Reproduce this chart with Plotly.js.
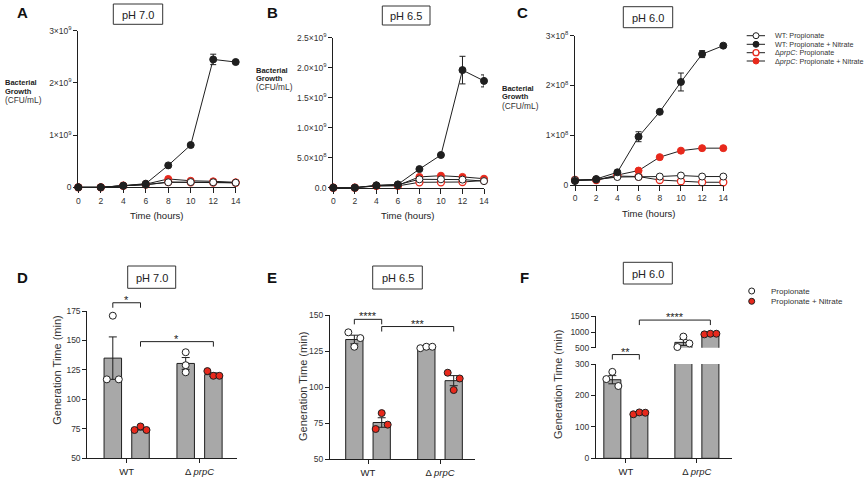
<!DOCTYPE html>
<html><head><meta charset="utf-8">
<script src="https://cdn.plot.ly/plotly-3.0.1.min.js"></script>
<style>html,body{margin:0;padding:0;background:#fff}#chart{width:866px;height:480px}</style>
</head><body><div id="chart"></div>
<script>
// ---------------- DATA ----------------
const hours = [0, 2, 4, 6, 8, 10, 12, 14];
const hourTicks = [0, 2, 4, 6, 8, 10, 12, 14];
const seriesLabels = ['WT: Propionate', 'WT: Propionate + Nitrate', 'Δ<i>prpC</i>: Propionate', 'Δ<i>prpC</i>: Propionate + Nitrate'];

// Panel A  pH 7.0 (CFU/mL)
const a_wtProp = [0, 0, 0.03e9, 0.05e9, 0.096e9, 0.1e9, 0.096e9, 0.088e9];
const a_wtNit = [0, 0, 0.03e9, 0.07e9, 0.42e9, 0.81e9, 2.45e9, 2.40e9];
const a_wtNitErr = [0, 0, 0, 0, 0.02e9, 0.02e9, 0.1e9, 0.03e9];
const a_dProp = [0, 0, 0.03e9, 0.05e9, 0.1e9, 0.095e9, 0.09e9, 0.085e9];
const a_dNit = [0, 0, 0.03e9, 0.06e9, 0.16e9, 0.125e9, 0.115e9, 0.096e9];
const a_tickVals = [0, 1e9, 2e9, 3e9];
const a_tickText = ['0', '1×10<sup>9</sup>', '2×10<sup>9</sup>', '3×10<sup>9</sup>'];

// Panel B  pH 6.5
const b_wtProp = [0, 0, 0.035e9, 0.05e9, 0.14e9, 0.14e9, 0.135e9, 0.11e9];
const b_wtNit = [0, 0, 0.04e9, 0.055e9, 0.31e9, 0.545e9, 1.96e9, 1.78e9];
const b_wtNitErr = [0, 0, 0, 0, 0.01e9, 0.02e9, 0.23e9, 0.1e9];
const b_dProp = [0, 0, 0.03e9, 0.03e9, 0.09e9, 0.09e9, 0.095e9, 0.12e9];
const b_dNit = [0, 0, 0.03e9, 0.04e9, 0.18e9, 0.2e9, 0.18e9, 0.15e9];
const b_tickVals = [0, 5e8, 1e9, 1.5e9, 2e9, 2.5e9];
const b_tickText = ['0.0', '5.0×10<sup>8</sup>', '1.0×10<sup>9</sup>', '1.5×10<sup>9</sup>', '2.0×10<sup>9</sup>', '2.5×10<sup>9</sup>'];

// Panel C  pH 6.0
const c_wtProp = [0.1e8, 0.11e8, 0.16e8, 0.16e8, 0.17e8, 0.19e8, 0.17e8, 0.17e8];
const c_wtNit = [0.08e8, 0.12e8, 0.255e8, 0.97e8, 1.47e8, 2.07e8, 2.63e8, 2.8e8];
const c_wtNitErr = [0, 0, 0, 0.1e8, 0.02e8, 0.18e8, 0.07e8, 0.02e8];
const c_dProp = [0.1e8, 0.1e8, 0.18e8, 0.17e8, 0.1e8, 0.075e8, 0.055e8, 0.055e8];
const c_dNit = [0.1e8, 0.1e8, 0.2e8, 0.29e8, 0.56e8, 0.69e8, 0.74e8, 0.74e8];
const c_tickVals = [0, 1e8, 2e8, 3e8];
const c_tickText = ['0', '1×10<sup>8</sup>', '2×10<sup>8</sup>', '3×10<sup>8</sup>'];

// Generation time panels (min)
const strains = ['WT', 'Δ <i>prpC</i>'];
const barLabels = ['Propionate', 'Propionate + Nitrate'];

// D  pH 7.0
const d_propPts = [[117, 171, 117], [140, 129, 123]];
const d_propMean = [135, 130.5];
const d_propSem = [18, 5];
const d_nitPts = [[74, 77, 74], [124, 120, 120]];
const d_nitMean = [75, 121];
const d_nitSem = [1, 1.5];
const d_ticks = [50, 75, 100, 125, 150, 175];
const d_sig = [{from: [0, 0], to: [0, 1], at: 182, label: '*'}, {from: [0, 1], to: [1, 1], at: 149, label: '*'}];

// E  pH 6.5
const e_propPts = [[138, 134, 128], [127, 128, 128]];
const e_propMean = [133, 127.5];
const e_propSem = [3, 0.5];
const e_nitPts = [[82, 71, 74], [110, 98, 106]];
const e_nitMean = [75.5, 104.5];
const e_nitSem = [3.3, 3.5];
const e_ticks = [50, 75, 100, 125, 150];
const e_sig = [{from: [0, 0], to: [0, 1], at: 147, label: '****'}, {from: [0, 1], to: [1, 1], at: 142, label: '***'}];

// F  pH 6.0 (broken axis)
const f_propPts = [[275, 252, 230], [521, 854, 635]];
const f_propMean = [250, 670];
const f_propSem = [13, 97];
const f_nitPts = [[140, 146, 145], [925, 945, 945]];
const f_nitMean = [143, 938];
const f_nitSem = [2, 10];
const f_ticksLow = [0, 100, 200, 300];
const f_ticksHigh = [500, 1000, 1500];
const f_sig = [{from: [0, 0], to: [0, 1], at: 330, label: '**'}, {from: [0, 1], to: [1, 1], at: 1380, label: '****'}];

// ---------------- STYLE / GEOMETRY ----------------
const W = 866, H = 480;
const RED = '#e8291c', INK = '#1f1f1f', BARC = '#a8a8a8';
const FONT = 'Arial, "Liberation Sans", Helvetica, sans-serif';
const px2x = p => p / W;
const py2y = p => 1 - p / H;

const layout = {
  width: W, height: H, margin: {l: 0, r: 0, t: 0, b: 0},
  paper_bgcolor: '#fff', plot_bgcolor: 'rgba(0,0,0,0)',
  showlegend: false, hovermode: false,
  font: {family: FONT, color: '#222'},
  shapes: [], annotations: []
};
const data = [];

function axisBase(extra) {
  return Object.assign({
    showline: true, linecolor: INK, linewidth: 1, ticks: 'outside', ticklen: 4, tickwidth: 1,
    tickcolor: INK, showgrid: false, zeroline: false, fixedrange: true,
    tickfont: {size: 8.5, color: '#333', family: FONT}
  }, extra);
}
function axKey(id) { return (id[0] === 'x' ? 'xaxis' : 'yaxis') + id.slice(1); }

function ann(text, x, y, opts) {
  layout.annotations.push(Object.assign({
    text: text, x: px2x(x), y: py2y(y), xref: 'paper', yref: 'paper', showarrow: false,
    xanchor: 'center', yanchor: 'middle', font: {family: FONT, size: 9, color: '#222'}
  }, opts || {}));
}
function titleBox(text, x0, x1, y0, y1) {
  layout.shapes.push({type: 'rect', xref: 'paper', yref: 'paper', x0: px2x(x0), x1: px2x(x1), y0: py2y(y0), y1: py2y(y1), line: {color: '#333', width: 1}, fillcolor: '#fff'});
  ann(text, (x0 + x1) / 2, (y0 + y1) / 2 + 0.5, {font: {family: FONT, size: 11, color: '#222'}});
}

// ---------------- GROWTH CURVES (A-C) ----------------
const growthPanels = [
  {x: 'x', y: 'y', xPx: [78.3, 235.7], yPx: [187.3, 30.7], wtProp: a_wtProp, wtNit: a_wtNit, err: a_wtNitErr, dProp: a_dProp, dNit: a_dNit, tv: a_tickVals, tt: a_tickText},
  {x: 'x2', y: 'y2', xPx: [333.3, 484], yPx: [187.7, 37.7], wtProp: b_wtProp, wtNit: b_wtNit, err: b_wtNitErr, dProp: b_dProp, dNit: b_dNit, tv: b_tickVals, tt: b_tickText},
  {x: 'x3', y: 'y3', xPx: [575, 723.3], yPx: [185, 35.7], wtProp: c_wtProp, wtNit: c_wtNit, err: c_wtNitErr, dProp: c_dProp, dNit: c_dNit, tv: c_tickVals, tt: c_tickText}
];
const lineStyle = {color: INK, width: 1};
const mk = {
  wtProp: {size: 7, color: '#fff', line: {color: INK, width: 1}},
  wtNit: {size: 7, color: INK, line: {color: INK, width: 1}},
  dProp: {size: 7, color: '#fff', line: {color: RED, width: 1.3}},
  dNit: {size: 7, color: RED, line: {color: RED, width: 1}}
};
growthPanels.forEach(p => {
  layout[axKey(p.x)] = axisBase({domain: [px2x(p.xPx[0]), px2x(p.xPx[1])], range: [0, 14], tickvals: hourTicks, ticktext: hourTicks.map(String), anchor: p.y, ticklen: 5});
  layout[axKey(p.y)] = axisBase({domain: [py2y(p.yPx[0]), py2y(p.yPx[1])], range: [0, p.tv[p.tv.length - 1]], tickvals: p.tv, ticktext: p.tt, anchor: p.x});
  const order = [['dNit', p.dNit, seriesLabels[3]], ['dProp', p.dProp, seriesLabels[2]], ['wtProp', p.wtProp, seriesLabels[0]], ['wtNit', p.wtNit, seriesLabels[1]]];
  order.forEach(([k, ys, name]) => {
    const t = {type: 'scatter', mode: 'lines+markers', x: hours, y: ys, name: name, xaxis: p.x, yaxis: p.y, line: lineStyle, marker: mk[k], cliponaxis: false};
    if (k === 'wtNit') t.error_y = {type: 'data', array: p.err, visible: true, color: INK, thickness: 1, width: 3};
    data.push(t);
  });
});

// ---------------- GENERATION TIME (D-F) ----------------
const barPanels = [
  {x: 'x4', xPx: [87.3, 236.7], xRange: [-0.54, 1.51],
   yAxes: [{id: 'y4', px: [458.3, 311], ticks: d_ticks}],
   prop: d_propPts, propMean: d_propMean, propSem: d_propSem, nit: d_nitPts, nitMean: d_nitMean, nitSem: d_nitSem, sig: d_sig},
  {x: 'x5', xPx: [330, 475], xRange: [-0.528, 1.486],
   yAxes: [{id: 'y5', px: [459.3, 315], ticks: e_ticks}],
   prop: e_propPts, propMean: e_propMean, propSem: e_propSem, nit: e_nitPts, nitMean: e_nitMean, nitSem: e_nitSem, sig: e_sig},
  {x: 'x6', xPx: [596, 731.7], xRange: [-0.42, 1.49],
   yAxes: [{id: 'y6', px: [458.3, 364], ticks: f_ticksLow}, {id: 'y7', px: [347.7, 316.3], ticks: f_ticksHigh}],
   prop: f_propPts, propMean: f_propMean, propSem: f_propSem, nit: f_nitPts, nitMean: f_nitMean, nitSem: f_nitSem, sig: f_sig}
];
const BAR_OFF = 0.19, BAR_W = 0.24, JIT = 6, JIT_THR = 7;

function axisFor(p, v) {
  if (p.yAxes.length > 1 && v >= p.yAxes[1].ticks[0]) return p.yAxes[1];
  return p.yAxes[0];
}
function yPx(p, v) {
  const a = axisFor(p, v), r0 = a.ticks[0], r1 = a.ticks[a.ticks.length - 1];
  return a.px[0] + (v - r0) * (a.px[1] - a.px[0]) / (r1 - r0);
}
function xPx(p, xv) { return p.xPx[0] + (xv - p.xRange[0]) * (p.xPx[1] - p.xPx[0]) / (p.xRange[1] - p.xRange[0]); }
function pxPerX(p) { return (p.xPx[1] - p.xPx[0]) / (p.xRange[1] - p.xRange[0]); }

function jitterOffsets(p, pts) {
  const py = pts.map(v => yPx(p, v));
  const idx = pts.map((_, i) => i).sort((a, b) => py[a] - py[b]);
  const groups = [];
  let cur = [idx[0]];
  for (let k = 1; k < idx.length; k++) {
    if (Math.abs(py[idx[k]] - py[cur[cur.length - 1]]) < JIT_THR) cur.push(idx[k]);
    else { groups.push(cur); cur = [idx[k]]; }
  }
  groups.push(cur);
  const off = new Array(pts.length).fill(0);
  groups.forEach(g => {
    g.sort((a, b) => a - b);
    const n = g.length;
    g.forEach((i, j) => { off[i] = (n === 2 ? (j - 0.5) * 2 * JIT : (j - (n - 1) / 2) * JIT) / pxPerX(p); });
  });
  return off;
}

barPanels.forEach(p => {
  layout[axKey(p.x)] = axisBase({domain: [px2x(p.xPx[0]), px2x(p.xPx[1])], range: p.xRange, tickvals: [0, 1], ticktext: strains, anchor: p.yAxes[0].id, tickfont: {size: 9.5, color: '#222', family: FONT}});
  p.yAxes.forEach(a => {
    layout[axKey(a.id)] = axisBase({domain: [py2y(a.px[0]), py2y(a.px[1])], range: [a.ticks[0], a.ticks[a.ticks.length - 1]], tickvals: a.ticks, anchor: p.x});
  });
  const sets = [
    {pts: p.prop, mean: p.propMean, sem: p.propSem, off: -BAR_OFF, mcol: '#fff', name: barLabels[0]},
    {pts: p.nit, mean: p.nitMean, sem: p.nitSem, off: BAR_OFF, mcol: RED, name: barLabels[1]}
  ];
  p.yAxes.forEach(a => {
    const lo = a.ticks[0], hi = a.ticks[a.ticks.length - 1];
    sets.forEach(s => {
      data.push({type: 'bar', x: strains.map((_, i) => i + s.off), y: s.mean, width: BAR_W, name: s.name,
        xaxis: p.x, yaxis: a.id, marker: {color: BARC, line: {color: INK, width: 1}},
        error_y: {type: 'data', array: s.sem, visible: true, color: INK, thickness: 1, width: 4}});
    });
    sets.forEach(s => {
      const xs = [], ys = [];
      s.pts.forEach((grp, gi) => {
        const off = jitterOffsets(p, grp);
        grp.forEach((v, k) => { if (v >= lo && v <= hi) { xs.push(gi + s.off + off[k]); ys.push(v); } });
      });
      data.push({type: 'scatter', mode: 'markers', x: xs, y: ys, name: s.name, xaxis: p.x, yaxis: a.id, cliponaxis: false,
        marker: {size: 7, color: s.mcol, line: {color: INK, width: 1}}});
    });
  });
  // significance brackets
  p.sig.forEach(sg => {
    const x0 = xPx(p, sg.from[0] + (sg.from[1] ? BAR_OFF : -BAR_OFF));
    const x1 = xPx(p, sg.to[0] + (sg.to[1] ? BAR_OFF : -BAR_OFF));
    const y = yPx(p, sg.at);
    layout.shapes.push({type: 'path', xref: 'paper', yref: 'paper',
      path: `M ${px2x(x0)},${py2y(y + 5)} L ${px2x(x0)},${py2y(y)} L ${px2x(x1)},${py2y(y)} L ${px2x(x1)},${py2y(y + 5)}`,
      line: {color: INK, width: 1}});
    ann(sg.label, (x0 + x1) / 2, y - 3, {font: {family: FONT, size: 11, color: '#222'}});
  });
});

// ---------------- TEXT ----------------
const letterFont = {family: FONT, size: 15, color: '#111', weight: 'bold'};
[['A', 22, 12], ['B', 272, 12], ['C', 522, 12], ['D', 22, 277], ['E', 272, 277], ['F', 524, 277]].forEach(([t, x, y]) => ann('<b>' + t + '</b>', x, y, {font: letterFont}));

titleBox('pH 7.0', 113.3, 162.7, 4, 24.3);
titleBox('pH 6.5', 382.3, 430, 6, 25);
titleBox('pH 6.0', 623.3, 672.7, 6.7, 27.7);
titleBox('pH 7.0', 127.7, 175.7, 266, 288.3);
titleBox('pH 6.5', 372.7, 422.3, 266, 289);
titleBox('pH 6.0', 623.3, 672.3, 262.3, 284);

// growth y-titles
[[3, 82.7], [254, 70], [500, 88.3]].forEach(([x, y]) => {
  ann('<b>Bacterial</b>', x, y, {xanchor: 'left', font: {family: FONT, size: 7.5, color: '#222'}});
  ann('<b>Growth</b>', x, y + 8.5, {xanchor: 'left', font: {family: FONT, size: 7.5, color: '#222'}});
  ann('(CFU/mL)', x, y + 17.5, {xanchor: 'left', font: {family: FONT, size: 8.3, color: '#333'}});
});
// x titles
[[157, 215], [408, 215], [649, 213]].forEach(([x, y]) => ann('Time (hours)', x, y, {font: {family: FONT, size: 9.5, color: '#222'}}));
// gen time y titles
[[56.7, 370], [303, 387], [558, 385]].forEach(([x, y]) => ann('Generation Time (min)', x, y, {textangle: -90, font: {family: FONT, size: 11, color: '#333'}}));

// legend 1 (growth)
const leg1Rows = [35.7, 44.3, 52.7, 61];
const leg1Mk = [mk.wtProp, mk.wtNit, mk.dProp, mk.dNit];
leg1Rows.forEach((y, i) => {
  layout.shapes.push({type: 'line', xref: 'paper', yref: 'paper', x0: px2x(746.7), x1: px2x(765), y0: py2y(y), y1: py2y(y), line: {color: INK, width: 1}});
  const m = leg1Mk[i];
  layout.shapes.push({type: 'circle', xref: 'paper', yref: 'paper', x0: px2x(753), x1: px2x(759), y0: py2y(y + 3), y1: py2y(y - 3), fillcolor: m.color, line: {color: m.line.color, width: m.line.width}});
  ann(seriesLabels[i], 773, y, {xanchor: 'left', font: {family: FONT, size: 7.2, color: '#333'}});
});
// legend 2 (generation time)
[[291, '#fff'], [301.3, RED]].forEach(([y, c], i) => {
  layout.shapes.push({type: 'circle', xref: 'paper', yref: 'paper', x0: px2x(748.7), x1: px2x(754.7), y0: py2y(y + 3), y1: py2y(y - 3), fillcolor: c, line: {color: INK, width: 1}});
  ann(barLabels[i], 769.3, y, {xanchor: 'left', font: {family: FONT, size: 8, color: '#333'}});
});

Plotly.newPlot('chart', data, layout, {staticPlot: true, displayModeBar: false});
</script></body></html>
